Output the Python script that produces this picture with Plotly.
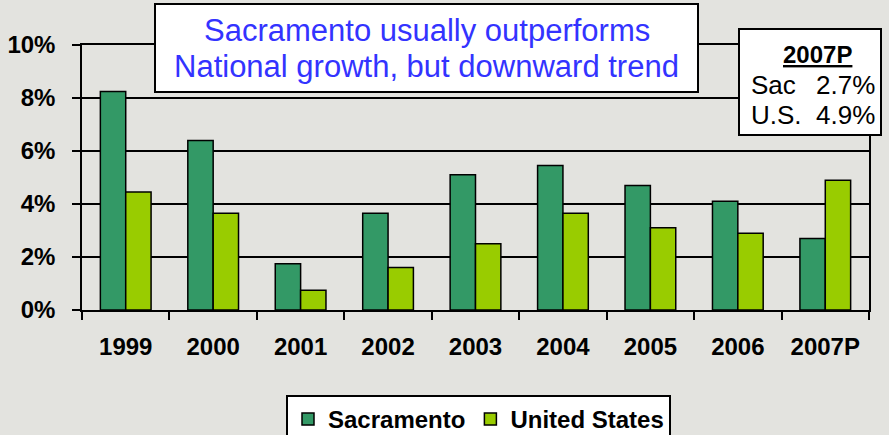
import plotly.graph_objects as go

# ---- data ----
years = ["1999", "2000", "2001", "2002", "2003", "2004", "2005", "2006", "2007P"]
sacramento = [8.25, 6.4, 1.75, 3.65, 5.1, 5.45, 4.7, 4.1, 2.7]
united_states = [4.45, 3.65, 0.75, 1.6, 2.5, 3.65, 3.1, 2.9, 4.9]
y_tickvals = [0, 2, 4, 6, 8, 10]
y_ticktext = ["0%", "2%", "4%", "6%", "8%", "10%"]
title_lines = ["Sacramento usually outperforms", "National growth, but downward trend"]

# ---- layout geometry (pixels) ----
W, H = 889, 435
L, R, T, B = 82, 20, 45, 125
PW, PH = W - L - R, H - T - B

def px(x):
    return (x - L) / PW

def py(y):
    return (H - B - y) / PH

BG = "#e3e3df"
FONT = "Liberation Sans, Arial, sans-serif"

fig = go.Figure()
fig.add_trace(go.Bar(
    x=years, y=sacramento, name="Sacramento",
    marker=dict(color="#339966", line=dict(color="black", width=1.5)),
))
fig.add_trace(go.Bar(
    x=years, y=united_states, name="United States",
    marker=dict(color="#99cc00", line=dict(color="black", width=1.5)),
))

shapes = [
    dict(type="rect", xref="paper", yref="paper",
         x0=px(155), x1=px(698), y0=py(92), y1=py(4),
         fillcolor="white", line=dict(color="black", width=2), layer="above"),
    dict(type="rect", xref="paper", yref="paper",
         x0=px(739), x1=px(881), y0=py(135), y1=py(29),
         fillcolor="white", line=dict(color="black", width=2), layer="above"),
]

annotations = [
    dict(text=title_lines[0], x=px(426.5), y=py(30), xref="paper", yref="paper",
         showarrow=False, xanchor="center", yanchor="middle",
         font=dict(size=31, color="#3333ff", family=FONT)),
    dict(text=title_lines[1], x=px(426.5), y=py(66), xref="paper", yref="paper",
         showarrow=False, xanchor="center", yanchor="middle",
         font=dict(size=31, color="#3333ff", family=FONT)),
    dict(text="<b><u>" + years[-1] + "</u></b>", x=px(817), y=py(54), xref="paper", yref="paper",
         showarrow=False, xanchor="center", yanchor="middle",
         font=dict(size=24, color="black", family=FONT)),
    dict(text="Sac", x=px(749), y=py(85), xref="paper", yref="paper",
         showarrow=False, xanchor="left", yanchor="middle",
         font=dict(size=26, color="black", family=FONT)),
    dict(text=f"{sacramento[-1]:.1f}%", x=px(814), y=py(85), xref="paper", yref="paper",
         showarrow=False, xanchor="left", yanchor="middle",
         font=dict(size=26, color="black", family=FONT)),
    dict(text="U.S.", x=px(749), y=py(115), xref="paper", yref="paper",
         showarrow=False, xanchor="left", yanchor="middle",
         font=dict(size=26, color="black", family=FONT)),
    dict(text=f"{united_states[-1]:.1f}%", x=px(814), y=py(115), xref="paper", yref="paper",
         showarrow=False, xanchor="left", yanchor="middle",
         font=dict(size=26, color="black", family=FONT)),
]

fig.update_layout(
    width=W, height=H,
    margin=dict(l=L, r=R, t=T, b=B, pad=0, autoexpand=False),
    paper_bgcolor=BG, plot_bgcolor=BG,
    barmode="group", bargap=0.42, bargroupgap=0,
    font=dict(family=FONT, color="black"),
    showlegend=True,
    legend=dict(
        orientation="h", x=px(286), y=py(395), xanchor="left", yanchor="top",
        bgcolor="white", bordercolor="black", borderwidth=2,
        font=dict(size=24, weight="bold", family=FONT, color="black"),
        itemwidth=30,
    ),
    shapes=shapes,
    annotations=annotations,
    xaxis=dict(
        type="category", tickson="boundaries", ticks="outside", ticklen=8,
        tickwidth=1.5, tickcolor="black",
        showline=True, linecolor="black", linewidth=1.5, mirror=True,
        showgrid=False, zeroline=False, automargin=False,
        tickfont=dict(size=24, weight="bold", family=FONT, color="black"),
        ticklabelstandoff=14,
    ),
    yaxis=dict(
        range=[0, 10], tickvals=y_tickvals, ticktext=y_ticktext,
        ticks="outside", ticklen=8, tickwidth=1.5, tickcolor="black",
        showline=True, linecolor="black", linewidth=1.5, mirror=True,
        showgrid=True, gridcolor="black", gridwidth=1.5, zeroline=False, automargin=False,
        tickfont=dict(size=24, weight="bold", family=FONT, color="black"),
        ticklabelstandoff=12,
    ),
)

fig.write_html("out.html", config={"displayModeBar": False},
               post_script="document.body.style.margin='0px';")
